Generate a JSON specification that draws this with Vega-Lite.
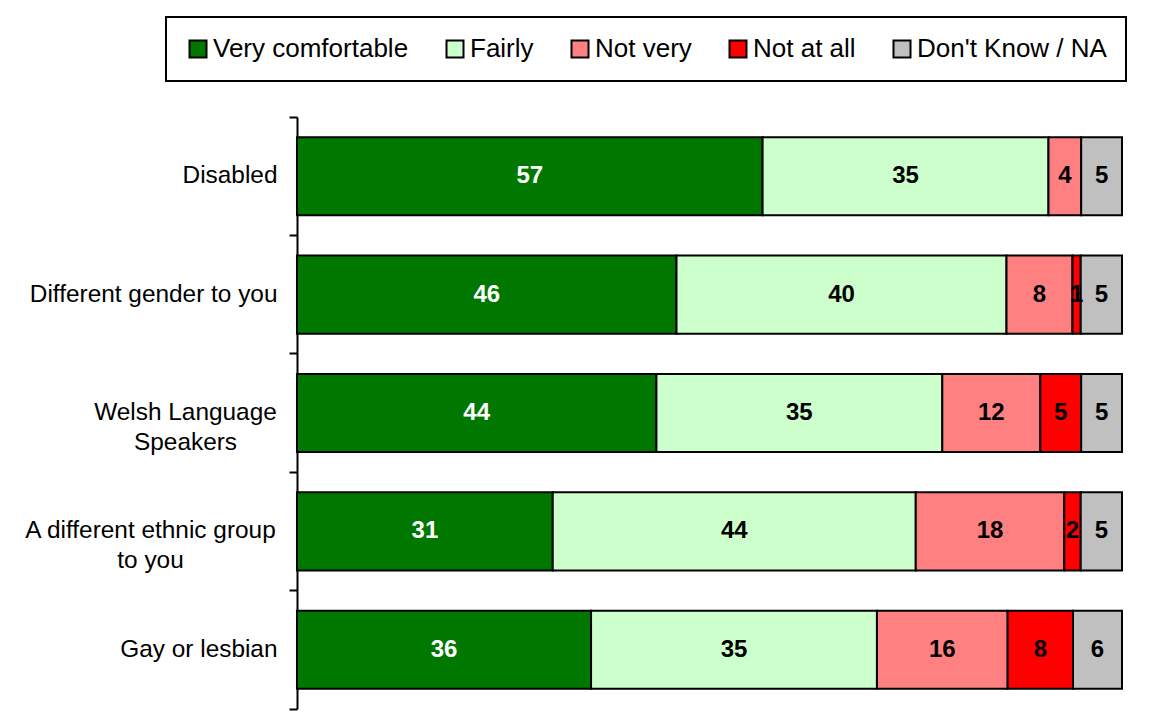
{
  "$schema": "https://vega.github.io/schema/vega-lite/v6.json",
  "width": 825,
  "height": 592,
  "autosize": {"type": "none"},
  "padding": {"left": 297, "top": 117, "right": 40, "bottom": 6},
  "background": "white",
  "config": {"view": {"stroke": null}, "font": "Liberation Sans"},
  "data": {
    "values": [
      {"c": "Disabled", "r": "Very comfortable", "v": 57},
      {"c": "Disabled", "r": "Fairly", "v": 35},
      {"c": "Disabled", "r": "Not very", "v": 4},
      {"c": "Disabled", "r": "Don't Know / NA", "v": 5},
      {"c": "Different gender to you", "r": "Very comfortable", "v": 46},
      {"c": "Different gender to you", "r": "Fairly", "v": 40},
      {"c": "Different gender to you", "r": "Not very", "v": 8},
      {"c": "Different gender to you", "r": "Not at all", "v": 1},
      {"c": "Different gender to you", "r": "Don't Know / NA", "v": 5},
      {"c": "Welsh Language Speakers", "r": "Very comfortable", "v": 44},
      {"c": "Welsh Language Speakers", "r": "Fairly", "v": 35},
      {"c": "Welsh Language Speakers", "r": "Not very", "v": 12},
      {"c": "Welsh Language Speakers", "r": "Not at all", "v": 5},
      {"c": "Welsh Language Speakers", "r": "Don't Know / NA", "v": 5},
      {"c": "A different ethnic group to you", "r": "Very comfortable", "v": 31},
      {"c": "A different ethnic group to you", "r": "Fairly", "v": 44},
      {"c": "A different ethnic group to you", "r": "Not very", "v": 18},
      {"c": "A different ethnic group to you", "r": "Not at all", "v": 2},
      {"c": "A different ethnic group to you", "r": "Don't Know / NA", "v": 5},
      {"c": "Gay or lesbian", "r": "Very comfortable", "v": 36},
      {"c": "Gay or lesbian", "r": "Fairly", "v": 35},
      {"c": "Gay or lesbian", "r": "Not very", "v": 16},
      {"c": "Gay or lesbian", "r": "Not at all", "v": 8},
      {"c": "Gay or lesbian", "r": "Don't Know / NA", "v": 6}
    ]
  },
  "transform": [
    {"calculate": "indexof(['Very comfortable','Fairly','Not very','Not at all',\"Don't Know / NA\"], datum.r)", "as": "rank"}
  ],
  "encoding": {
    "y": {
      "field": "c",
      "type": "nominal",
      "sort": ["Disabled", "Different gender to you", "Welsh Language Speakers", "A different ethnic group to you", "Gay or lesbian"],
      "scale": {"paddingInner": 0, "paddingOuter": 0},
      "axis": {
        "title": null,
        "domainColor": "black",
        "domainWidth": 2,
        "tickColor": "black",
        "tickWidth": 2,
        "tickSize": 8,
        "bandPosition": 1,
        "tickExtra": true,
        "labelFont": "Liberation Sans",
        "labelFontSize": 24.4,
        "labelColor": "black",
        "labelLineHeight": 30,
        "labelLimit": 400,
        "labelExpr": "datum.value == 'Welsh Language Speakers' ? ['Welsh Language', 'Speakers'] : (datum.value == 'A different ethnic group to you' ? ['A different ethnic group', 'to you'] : datum.value)",
        "labelAlign": {"condition": {"test": "datum.value == 'Welsh Language Speakers' || datum.value == 'A different ethnic group to you'", "value": "center"}, "value": "right"},
        "labelPadding": {"condition": [
          {"test": "datum.value == 'Welsh Language Speakers'", "value": 104},
          {"test": "datum.value == 'A different ethnic group to you'", "value": 139}
        ], "value": 12}
      }
    },
    "order": {"field": "rank", "type": "quantitative"}
  },
  "layer": [
    {
      "mark": {"type": "bar", "height": {"band": 0.66}, "stroke": "black", "strokeWidth": 2},
      "encoding": {
        "x": {"field": "v", "type": "quantitative", "stack": "normalize", "axis": null},
        "color": {
          "field": "r",
          "type": "nominal",
          "scale": {
            "domain": ["Very comfortable", "Fairly", "Not very", "Not at all", "Don't Know / NA"],
            "range": ["#007800", "#CCFFCC", "#FF8080", "#FF0000", "#C0C0C0"]
          },
          "legend": {
            "title": null,
            "orient": "none",
            "legendX": -131,
            "legendY": -100,
            "direction": "horizontal",
            "columns": 5,
            "strokeColor": "black",
            "padding": 19,
            "symbolType": "square",
            "symbolSize": 289,
            "symbolStrokeColor": "black",
            "symbolStrokeWidth": 2,
            "symbolOpacity": 1,
            "labelFont": "Liberation Sans",
            "labelFontSize": 26,
            "labelColor": "black",
            "labelOffset": 2,
            "columnPadding": 33,
            "labelLimit": 400,
            "encode": {"legend": {"update": {"strokeWidth": {"value": 2}}}}
          }
        }
      }
    },
    {
      "mark": {"type": "text", "fontSize": 24, "fontWeight": "bold", "font": "Liberation Sans"},
      "encoding": {
        "x": {"field": "v", "type": "quantitative", "stack": "normalize", "bandPosition": 0.5},
        "detail": {"field": "r", "type": "nominal"},
        "text": {"field": "v", "type": "quantitative"},
        "color": {"condition": {"test": "datum.r == 'Very comfortable'", "value": "white"}, "value": "black"}
      }
    }
  ]
}
